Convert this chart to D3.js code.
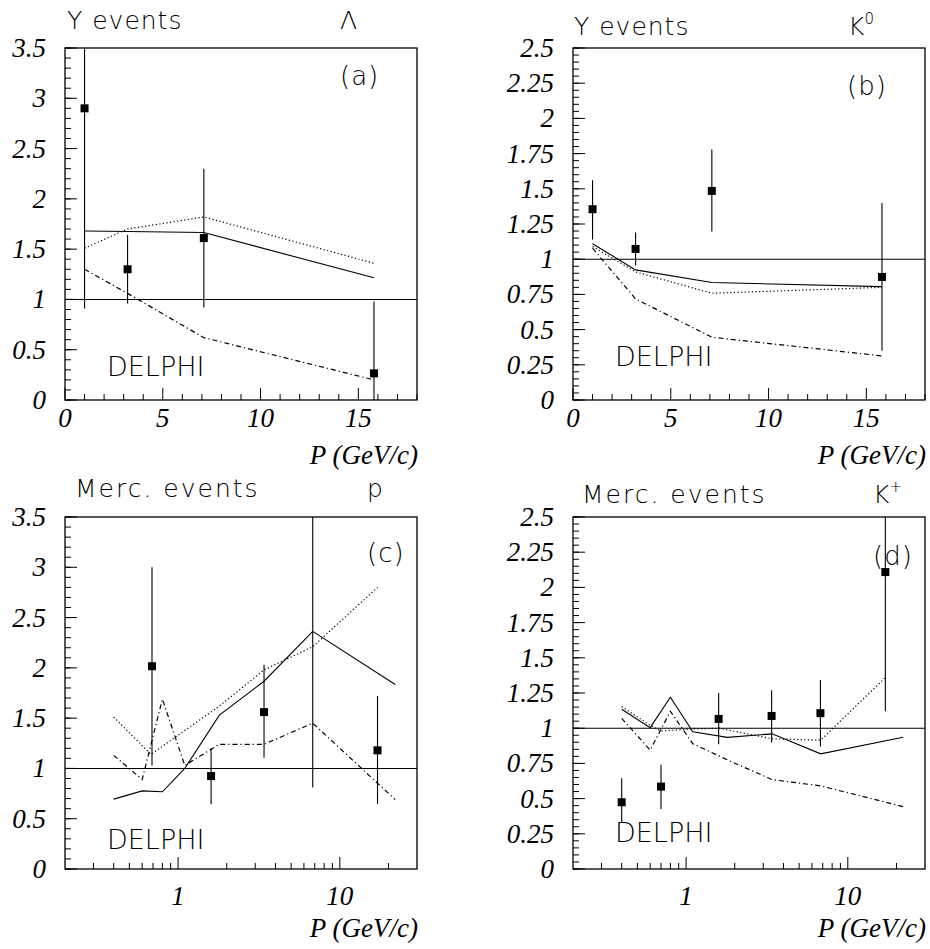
<!DOCTYPE html>
<html>
<head>
<meta charset="utf-8">
<script src="https://cdn.jsdelivr.net/npm/d3@7"></script>
<style>
  body { margin: 0; background: #fff; }
  .tick-lab { font-family: "Liberation Serif", "Times New Roman", serif; font-style: italic; font-size: 27px; fill: #000; }
  .hig { font-family: "DejaVu Sans", sans-serif; font-weight: 200; fill: #000; }
</style>
</head>
<body>
<div id="chart"></div>
<script>
// (a) Lambda, Y events
var lamX = [1.0, 3.2, 7.1, 15.8];
var lamY = [2.9, 1.30, 1.61, 0.265];
var lamLo = [0.91, 0.96, 0.92, 0.0];
var lamHi = [3.9, 1.64, 2.30, 0.98];
var lamModX = [1.0, 3.2, 7.1, 15.8];
var lamSolid = [1.68, 1.675, 1.665, 1.215];
var lamDot = [1.51, 1.70, 1.82, 1.36];
var lamDash = [1.30, 1.06, 0.62, 0.20];

// (b) K0, Y events
var k0X = [1.0, 3.2, 7.1, 15.8];
var k0Y = [1.355, 1.073, 1.485, 0.874];
var k0Lo = [1.14, 0.955, 1.196, 0.35];
var k0Hi = [1.56, 1.19, 1.78, 1.40];
var k0ModX = [1.0, 3.2, 7.1, 15.8];
var k0Solid = [1.11, 0.924, 0.834, 0.805];
var k0Dot = [1.09, 0.91, 0.758, 0.80];
var k0Dash = [1.078, 0.718, 0.446, 0.313];

// (c) p, Merc. events
var pX = [0.69, 1.6, 3.4, 6.8, 17.1];
var pY = [2.016, 0.924, 1.56, 4.2, 1.18];
var pLo = [1.03, 0.645, 1.105, 0.81, 0.645];
var pHi = [3.0, 1.2, 2.03, 5.0, 1.72];
var mercModX = [0.4, 0.6, 0.8, 1.1, 1.8, 3.4, 6.8, 22];
var pSolid = [0.695, 0.777, 0.768, 1.0, 1.53, 1.867, 2.363, 1.834];
var pDash = [1.13, 0.89, 1.69, 1.03, 1.24, 1.24, 1.45, 0.69];
var pDotX = [0.4, 0.68, 1.8, 3.4, 6.8, 17.1];
var pDot = [1.51, 1.14, 1.62, 1.98, 2.21, 2.80];

// (d) K+, Merc. events
var kpX = [0.40, 0.70, 1.59, 3.38, 6.77, 17.06];
var kpY = [0.474, 0.585, 1.066, 1.087, 1.107, 2.109];
var kpLo = [0.33, 0.427, 0.886, 0.898, 0.87, 1.12];
var kpHi = [0.645, 0.74, 1.25, 1.27, 1.343, 3.1];
var kpSolid = [1.135, 1.004, 1.22, 0.975, 0.935, 0.96, 0.818, 0.936];
var kpDash = [1.07, 0.845, 1.12, 0.89, 0.775, 0.635, 0.59, 0.443];
var kpDotX = [0.4, 0.6, 0.7, 1.1, 1.6, 3.4, 6.8, 17.06];
var kpDot = [1.154, 1.02, 0.98, 0.995, 1.0, 0.925, 0.915, 1.36];

var yTicksA = [0, 0.5, 1, 1.5, 2, 2.5, 3, 3.5];
var yTicksB = [0, 0.25, 0.5, 0.75, 1, 1.25, 1.5, 1.75, 2, 2.25, 2.5];
var xTicksLin = [0, 5, 10, 15];
var xTicksLog = [1, 10];

var panels = [
  { id: "a", left: 65, top: 48, log: false, ymax: 3.5, yTicks: yTicksA, yMinor: 0.1,
    title: "Y events", part: "Λ", sup: "", tag: "(a)", titleX: 67, titleSp: 1,
    titleY: 29, partX: 340, tagX: 340, tagY: 85, delphiX: 107, delphiY: 376,
    px: lamX, py: lamY, lo: lamLo, hi: lamHi,
    lines: [[lamModX, lamSolid, "solid"], [lamModX, lamDot, "dot"], [lamModX, lamDash, "dash"]] },
  { id: "b", left: 573, top: 48, log: false, ymax: 2.5, yTicks: yTicksB, yMinor: 0.05,
    title: "Y events", part: "K", sup: "0", tag: "(b)", titleX: 574, titleSp: 1,
    titleY: 35, partX: 848, tagX: 847, tagY: 95, delphiX: 615, delphiY: 366,
    px: k0X, py: k0Y, lo: k0Lo, hi: k0Hi,
    lines: [[k0ModX, k0Solid, "solid"], [k0ModX, k0Dot, "dot"], [k0ModX, k0Dash, "dash"]] },
  { id: "c", left: 65, top: 517, log: true, ymax: 3.5, yTicks: yTicksA, yMinor: 0.1,
    title: "Merc. events", part: "p", sup: "", tag: "(c)", titleX: 75, titleSp: 2,
    titleY: 497, partX: 367, tagX: 367, tagY: 562, delphiX: 107, delphiY: 849,
    px: pX, py: pY, lo: pLo, hi: pHi,
    lines: [[mercModX, pSolid, "solid"], [pDotX, pDot, "dot"], [mercModX, pDash, "dash"]] },
  { id: "d", left: 573, top: 517, log: true, ymax: 2.5, yTicks: yTicksB, yMinor: 0.05,
    title: "Merc. events", part: "K", sup: "+", tag: "(d)", titleX: 582, titleSp: 2,
    titleY: 503, partX: 873, tagX: 873, tagY: 565, delphiX: 615, delphiY: 842,
    px: kpX, py: kpY, lo: kpLo, hi: kpHi,
    lines: [[mercModX, kpSolid, "solid"], [kpDotX, kpDot, "dot"], [mercModX, kpDash, "dash"]] }
];

var W = 352, H = 352;
var dashes = { solid: null, dot: "1.2,2.4", dash: "5,3,1.2,3" };

var svg = d3.select("#chart").append("svg")
    .attr("width", 930)
    .attr("height", 949);

panels.forEach(function(p) {
  var x = p.log ? d3.scaleLog().domain([0.2, 30]).range([0, W])
                : d3.scaleLinear().domain([0, 18]).range([0, W]);
  var y = d3.scaleLinear().domain([0, p.ymax]).range([H, 0]);

  var g = svg.append("g")
      .attr("transform", "translate(" + p.left + "," + p.top + ")");

  g.append("clipPath").attr("id", "clip-" + p.id)
    .append("rect").attr("width", W).attr("height", H);

  // y ticks inside the frame
  var yMinorTicks = d3.range(0, p.ymax + 1e-9, p.yMinor);
  g.append("g").selectAll("line").data(yMinorTicks).enter().append("line")
      .attr("x1", 0).attr("x2", 6)
      .attr("y1", function(d) { return y(d); }).attr("y2", function(d) { return y(d); })
      .attr("stroke", "#000").attr("stroke-width", 1);
  g.append("g").selectAll("line").data(p.yTicks).enter().append("line")
      .attr("x1", 0).attr("x2", 12)
      .attr("y1", function(d) { return y(d); }).attr("y2", function(d) { return y(d); })
      .attr("stroke", "#000").attr("stroke-width", 1);
  g.append("g").selectAll("text").data(p.yTicks).enter().append("text")
      .attr("class", "tick-lab")
      .attr("x", -19).attr("y", function(d) { return y(d) + 9; })
      .attr("text-anchor", "end")
      .text(function(d) { return d; });

  // x ticks
  var xMinor, xMajor = p.log ? xTicksLog : xTicksLin;
  if (p.log) {
    xMinor = x.ticks().filter(function(d) { return d > 0.2 && d < 30; });
  } else {
    xMinor = d3.range(0, 19, 1);
  }
  g.append("g").selectAll("line").data(xMinor).enter().append("line")
      .attr("x1", function(d) { return x(d); }).attr("x2", function(d) { return x(d); })
      .attr("y1", H).attr("y2", function(d) {
        if (p.log) return H - ((d === 1 || d === 10) ? 12 : 6);
        return H - (d % 5 === 0 ? 12 : 6);
      })
      .attr("stroke", "#000").attr("stroke-width", 1);
  g.append("g").selectAll("text").data(xMajor).enter().append("text")
      .attr("class", "tick-lab")
      .attr("x", function(d) { return x(d); })
      .attr("y", H + (p.log ? 36 : 27))
      .attr("text-anchor", "middle")
      .text(function(d) { return d; });

  g.append("text")
      .attr("class", "tick-lab")
      .attr("x", W + 1).attr("y", H + (p.log ? 68 : 64))
      .attr("text-anchor", "end")
      .text("P (GeV/c)");

  var plot = g.append("g").attr("clip-path", "url(#clip-" + p.id + ")");

  // reference line at 1
  plot.append("line")
      .attr("x1", 0).attr("x2", W).attr("y1", y(1)).attr("y2", y(1))
      .attr("stroke", "#000").attr("stroke-width", 1.1);

  var line = d3.line()
      .x(function(d) { return x(d[0]); })
      .y(function(d) { return y(d[1]); });

  p.lines.forEach(function(l) {
    plot.append("path")
        .datum(d3.zip(l[0], l[1]))
        .attr("d", line)
        .attr("fill", "none")
        .attr("stroke", "#000")
        .attr("stroke-width", l[2] === "solid" ? 1.1 : 1.2)
        .attr("stroke-dasharray", dashes[l[2]]);
  });

  var pts = d3.range(p.px.length).map(function(i) {
    return { x: p.px[i], y: p.py[i], lo: p.lo[i], hi: p.hi[i] };
  });

  plot.selectAll(".err").data(pts).enter().append("line")
      .attr("class", "err")
      .attr("x1", function(d) { return x(d.x); }).attr("x2", function(d) { return x(d.x); })
      .attr("y1", function(d) { return y(d.lo); }).attr("y2", function(d) { return y(d.hi); })
      .attr("stroke", "#000").attr("stroke-width", 1.1);

  plot.selectAll(".pt").data(pts).enter().append("rect")
      .attr("class", "pt")
      .attr("x", function(d) { return x(d.x) - 4; })
      .attr("y", function(d) { return y(d.y) - 4; })
      .attr("width", 8).attr("height", 8)
      .attr("fill", "#000");

  // frame
  g.append("rect")
      .attr("width", W).attr("height", H)
      .attr("fill", "none").attr("stroke", "#000").attr("stroke-width", 1.3);

  // labels
  svg.append("text").attr("class", "hig")
      .attr("x", p.titleX).attr("y", p.titleY)
      .style("font-size", "25px").style("letter-spacing", p.titleSp + "px")
      .text(p.title);
  var part = svg.append("text").attr("class", "hig")
      .attr("x", p.partX).attr("y", p.titleY)
      .style("font-size", "25px")
      .text(p.part);
  if (p.sup) {
    part.append("tspan").attr("dy", -11).style("font-size", "15px").text(p.sup);
  }
  svg.append("text").attr("class", "hig")
      .attr("x", p.tagX).attr("y", p.tagY)
      .style("font-size", "26px").style("letter-spacing", "1px")
      .text(p.tag);
  svg.append("text").attr("class", "hig")
      .attr("x", p.delphiX).attr("y", p.delphiY)
      .style("font-size", "27px")
      .text("DELPHI");
});
</script>
</body>
</html>
